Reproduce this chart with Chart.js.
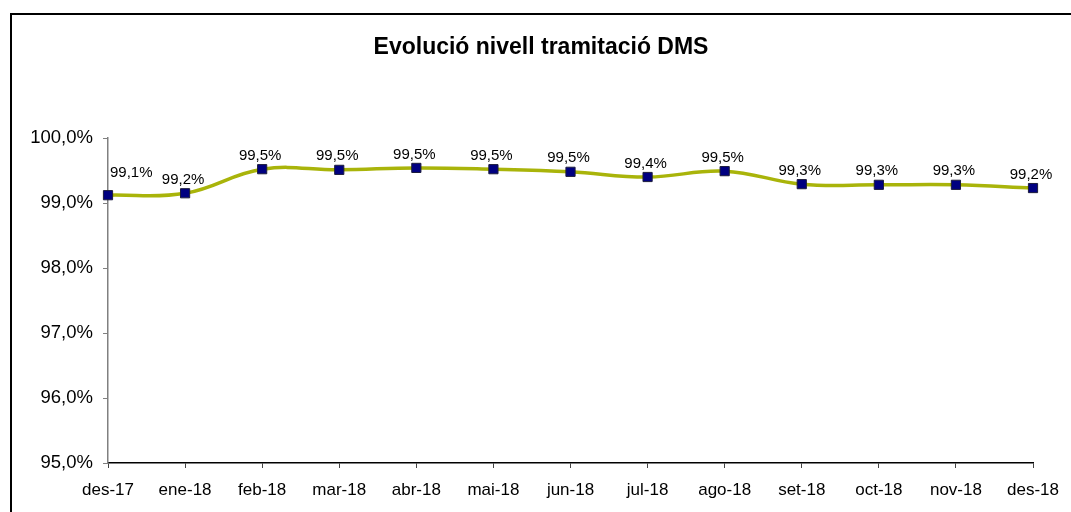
<!DOCTYPE html>
<html lang="ca">
<head>
    <meta charset="UTF-8">
    <title>Evolució nivell tramitació DMS</title>
    <script src="https://cdn.jsdelivr.net/npm/chart.js"></script>
    <style>
        html, body { margin: 0; padding: 0; background: #fff; overflow: hidden; }
        #wrap { position: relative; width: 1071px; height: 512px; }
        #frame {
            position: absolute; left: 10px; top: 13px; width: 1100px; height: 600px;
            border-top: 2px solid #000; border-left: 2px solid #000; box-sizing: border-box;
        }
        #chart { position: absolute; left: 0; top: 0; }
    </style>
</head>
<body>
<div id="wrap">
    <div id="frame"></div>
    <canvas id="chart" width="1071" height="512"></canvas>
</div>
<script>
    const chartTitle = "Evolució nivell tramitació DMS";
    const months = ["des-17", "ene-18", "feb-18", "mar-18", "abr-18", "mai-18", "jun-18",
                    "jul-18", "ago-18", "set-18", "oct-18", "nov-18", "des-18"];
    const levels = [99.12, 99.15, 99.52, 99.51, 99.54, 99.52, 99.48,
                    99.40, 99.49, 99.29, 99.28, 99.28, 99.23];
    const yTicks = [95, 96, 97, 98, 99, 100];

    const FONT = "'Liberation Sans', Arial, sans-serif";
    const fmt = v => v.toFixed(1).replace(".", ",") + "%";

    // title and point labels drawn on the canvas
    const extras = {
        id: "extras",
        afterDatasetsDraw(chart) {
            const ctx = chart.ctx;
            ctx.save();
            ctx.fillStyle = "#000";
            ctx.font = "bold 23px " + FONT;
            ctx.textAlign = "center";
            ctx.textBaseline = "middle";
            ctx.fillText(chartTitle, 541, 48);

            ctx.font = "15px " + FONT;
            ctx.textBaseline = "bottom";
            chart.getDatasetMeta(0).data.forEach((pt, i) => {
                const txt = fmt(levels[i]);
                if (i === 0) {
                    ctx.textAlign = "left";
                    ctx.fillText(txt, pt.x + 2, pt.y - 15);
                } else {
                    ctx.textAlign = "center";
                    ctx.fillText(txt, pt.x - 2, pt.y - 6);
                }
            });
            ctx.restore();
        }
    };

    new Chart(document.getElementById("chart"), {
        type: "line",
        data: {
            labels: months,
            datasets: [{
                data: levels,
                borderColor: "#a9b40a",
                borderWidth: 3.5,
                tension: 0.4,
                pointStyle: "rect",
                pointRadius: 6.5,
                pointBackgroundColor: "#000080",
                pointBorderColor: "#1c1c3c",
                pointBorderWidth: 1
            }]
        },
        options: {
            responsive: false,
            animation: false,
            layout: { padding: { left: 10, top: 138, right: 29, bottom: 0 } },
            plugins: {
                legend: { display: false },
                title: { display: false },
                tooltip: { enabled: false }
            },
            scales: {
                x: {
                    offset: false,
                    grid: { drawOnChartArea: false, tickLength: 5, color: "#444" },
                    border: { color: "#000", width: 1.5 },
                    ticks: { color: "#000", font: { family: FONT, size: 17 }, padding: 12, maxRotation: 0 },
                    afterFit(s) { s.height = 49; }
                },
                y: {
                    min: 95,
                    max: 100,
                    afterBuildTicks(s) { s.ticks = yTicks.map(v => ({ value: v })); },
                    grid: { drawOnChartArea: false, tickLength: 5, color: "#808080" },
                    border: { color: "#808080", width: 1.5 },
                    ticks: {
                        color: "#000",
                        font: { family: FONT, size: 18.5 },
                        padding: 10,
                        callback: v => fmt(v)
                    },
                    afterFit(s) { s.width = 98; }
                }
            }
        },
        plugins: [extras]
    });
</script>
</body>
</html>
